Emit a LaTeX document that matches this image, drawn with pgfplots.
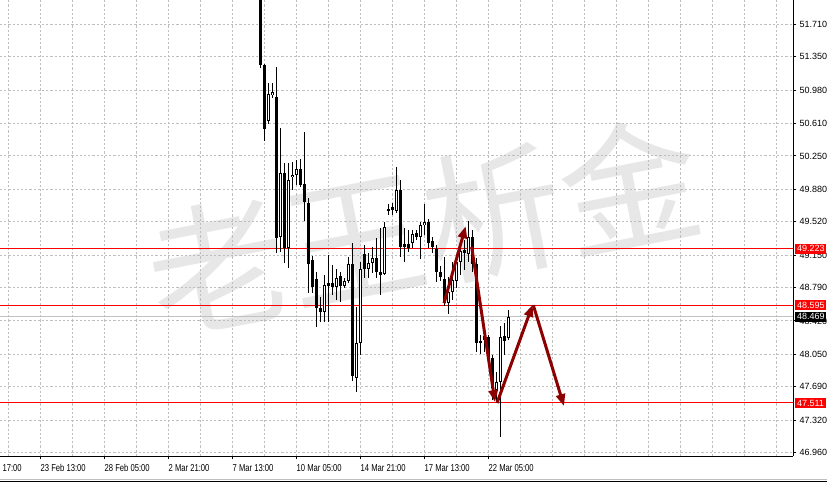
\documentclass[border=0pt]{standalone}
\usepackage{fontspec}
\setmainfont{Liberation Sans}
\newfontfamily\cjk{Noto Sans CJK SC}
\usepackage{pgfplots}
\pgfplotsset{compat=1.18}
\usepackage{pgfplotstable}
\usetikzlibrary{arrows.meta}
\definecolor{gridc}{RGB}{190,190,190}
\definecolor{arrowc}{RGB}{140,0,0}
\definecolor{wm}{RGB}{231,231,231}
\definecolor{pricegray}{RGB}{192,192,192}
\setlength{\fboxsep}{1.8pt}

% candles: x (bar position), open, high, low, close
\pgfplotstableread{
x o h l c
268.5 50.635 51.056 50.602 50.935
272.5 50.923 51.056 50.890 50.957
280.5 49.349 50.558 49.183 50.059
288.5 49.227 50.170 49.005 49.981
292.5 50.014 50.181 49.870 50.037
296.5 50.037 50.203 49.926 50.103
324.5 48.518 48.928 48.407 48.817
336.5 48.795 48.994 48.651 48.895
344.5 48.806 48.895 48.784 48.861
348.5 48.861 49.127 48.839 49.050
356.5 47.786 48.573 47.631 48.174
360.5 48.174 49.072 48.041 48.994
368.5 48.994 49.172 48.895 49.061
372.5 49.061 49.238 48.950 49.116
384.5 48.939 49.515 48.928 49.460
396.5 49.637 50.125 49.615 49.870
412.5 49.283 49.427 49.227 49.382
420.5 49.349 49.515 49.105 49.482
424.5 49.482 49.715 49.371 49.515
448.5 48.617 48.906 48.495 48.739
452.5 48.739 49.072 48.651 48.872
456.5 48.861 49.161 48.784 49.072
460.5 49.072 49.316 48.928 49.194
468.5 49.161 49.527 49.072 49.349
496.5 47.653 47.852 47.511 47.742
500.5 47.742 48.362 47.132 48.240
508.5 48.229 48.540 48.207 48.469
}\bull
\pgfplotstableread{
x o h l c
260.5 52.309 52.420 51.223 51.256
264.5 51.256 51.267 50.413 50.546
276.5 50.901 51.234 49.172 49.338
284.5 50.059 50.170 49.061 49.227
300.5 50.103 50.214 49.903 49.926
304.5 49.937 50.513 49.527 49.737
308.5 49.726 49.782 48.728 49.050
312.5 49.094 49.138 48.728 48.795
316.5 48.883 48.961 48.351 48.562
320.5 48.562 48.684 48.407 48.518
328.5 48.839 49.150 48.407 48.806
332.5 48.839 49.039 48.706 48.795
340.5 48.917 48.961 48.629 48.806
352.5 49.050 49.283 47.753 47.808
364.5 49.161 49.260 48.895 48.994
376.5 49.116 49.338 48.895 48.961
380.5 48.961 49.449 48.706 48.928
388.5 49.660 49.715 49.593 49.637
392.5 49.682 49.726 49.593 49.648
400.5 49.870 49.981 49.127 49.238
404.5 49.272 49.449 49.072 49.238
408.5 49.272 49.427 49.183 49.227
416.5 49.393 49.427 49.316 49.349
428.5 49.515 49.549 49.227 49.283
432.5 49.305 49.349 49.172 49.238
436.5 49.216 49.260 48.850 48.961
440.5 48.961 49.028 48.861 48.906
444.5 48.883 49.127 48.584 48.617
464.5 49.205 49.316 48.983 49.172
472.5 49.349 49.427 48.961 49.050
476.5 49.050 49.116 48.074 48.174
480.5 48.196 48.263 48.052 48.174
484.5 48.252 48.285 48.074 48.207
488.5 48.240 48.263 47.963 48.008
492.5 48.008 48.041 47.542 47.675
504.5 48.252 48.396 48.041 48.196
}\bear

\pgfplotsset{
  nomark/.style={only marks, mark=*, mark options={draw=none, fill=none, opacity=0}, forget plot},
  wick/.style={nomark,
    error bars/.cd, y dir=both, y explicit, error mark=none,
    error bar style={line width=1pt, black, solid, opacity=1}},
  body/.style={nomark,
    error bars/.cd, y dir=both, y explicit, error mark=none,
    error bar style={line width=3pt, black, solid, opacity=1}},
  hollow/.style={nomark,
    error bars/.cd, y dir=both, y explicit, error mark=none,
    error bar style={line width=1pt, white, solid, opacity=1}},
}

\begin{document}
\begin{tikzpicture}
% watermark
\node[rotate=11, text=wm, font=\cjk\fontsize{140}{140}\selectfont, inner sep=0pt]
  at (424pt,230pt) {老王析金};
\begin{axis}[
  at={(0,0)}, anchor=south west,
  scale only axis, width=793pt, height=456pt,
  xmin=0, xmax=793, ymin=46.923, ymax=51.979,
  axis x line*=bottom, axis y line*=right,
  axis line style={-, line width=1pt, black},
  tick align=outside, major tick length=3pt, minor tick length=0pt,
  every tick/.style={black, line width=1pt},
  xtick={40.5,104.5,168.5,232.5,296.5,360.5,424.5,488.5},
  xticklabels={23 Feb 13:00, 28 Feb 05:00, 2 Mar 21:00, 7 Mar 13:00, 10 Mar 05:00, 14 Mar 21:00, 17 Mar 13:00, 22 Mar 05:00},
  minor xtick={8.5,40.5,72.5,104.5,136.5,168.5,200.5,232.5,264.5,296.5,328.5,360.5,392.5,424.5,456.5,488.5,520.5,552.5,584.5,616.5,648.5,680.5,712.5,744.5,776.5},
  xminorgrids=true, xmajorgrids=false, ymajorgrids=true,
  major grid style={gridc, dash pattern=on 2.2pt off 2pt, line width=1pt},
  minor grid style={gridc, dash pattern=on 2.2pt off 2pt, line width=1pt},
  xticklabel style={font=\fontsize{10}{12}\selectfont, xscale=0.765, anchor=north west, inner sep=0pt, yshift=-5pt},
  ytick={46.96,47.32,47.69,48.05,48.42,48.79,49.15,49.52,49.88,50.25,50.61,50.98,51.35,51.71},
  yticklabel style={font=\fontsize{9}{10}\selectfont, anchor=west,
    /pgf/number format/fixed, /pgf/number format/fixed zerofill,
    /pgf/number format/precision=3, /pgf/number format/assume math mode=true},
  extra y ticks={49.223,48.595,47.511,48.469},
  extra y tick labels={\colorbox{red}{\textcolor{white}{49.223}},\colorbox{red}{\textcolor{white}{48.595}},\colorbox{red}{\textcolor{white}{47.511}},\colorbox{black}{\textcolor{white}{48.469}}},
  extra y tick style={grid=none, major tick length=0pt,
    yticklabel style={inner sep=0pt, xshift=2pt}},
  clip=true,
]
% level lines
\addplot[pricegray, line width=1pt, forget plot] coordinates {(0,48.469) (793,48.469)};
\addplot[red, line width=1pt, forget plot] coordinates {(0,49.223) (793,49.223)};
\addplot[red, line width=1pt, forget plot] coordinates {(0,48.595) (793,48.595)};
\addplot[red, line width=1pt, forget plot] coordinates {(0,47.511) (793,47.511)};
% wicks
\addplot[wick] table[x=x, y expr=(\thisrow{h}+\thisrow{l})/2, y error expr=(\thisrow{h}-\thisrow{l})/2] {\bear};
\addplot[wick] table[x=x, y expr=(\thisrow{h}+\thisrow{l})/2, y error expr=(\thisrow{h}-\thisrow{l})/2] {\bull};
% bodies
\addplot[body] table[x=x, y expr=(\thisrow{o}+\thisrow{c})/2, y error expr={max(abs(\thisrow{c}-\thisrow{o})/2,0.0056)}] {\bear};
\addplot[body] table[x=x, y expr=(\thisrow{o}+\thisrow{c})/2, y error expr={max(abs(\thisrow{c}-\thisrow{o})/2,0.0056)}] {\bull};
\addplot[hollow] table[x=x, y expr=(\thisrow{o}+\thisrow{c})/2, y error expr={max(abs(\thisrow{c}-\thisrow{o})/2-0.0111,0)}] {\bull};
% arrows
\addplot[arrowc, line width=3pt, -{Triangle[length=12pt, width=9pt]}, forget plot] coordinates {(444,48.617) (465.7,49.471)};
\addplot[arrowc, line width=3pt, -{Triangle[length=12pt, width=9pt]}, forget plot] coordinates {(471.7,49.242) (495,47.520)};
\addplot[arrowc, line width=3pt, -{Triangle[length=12pt, width=9pt]}, forget plot] coordinates {(497,47.510) (532.7,48.600)};
\addplot[arrowc, line width=3pt, -{Triangle[length=12pt, width=9pt]}, forget plot] coordinates {(533.3,48.595) (564,47.476)};
\end{axis}
\node[font=\fontsize{10}{12}\selectfont, xscale=0.765, anchor=north west, inner sep=0pt] at (-23.5pt,-8pt) {20 Feb 17:00};
\draw[gray!50, line width=1pt] (0,-23.5pt) -- (827pt,-23.5pt);
\draw[black, line width=1pt] (0,-25.5pt) -- (827pt,-25.5pt);
\pgfresetboundingbox
\path[use as bounding box] (0,-26pt) rectangle (827pt,456pt);
\end{tikzpicture}
\end{document}
